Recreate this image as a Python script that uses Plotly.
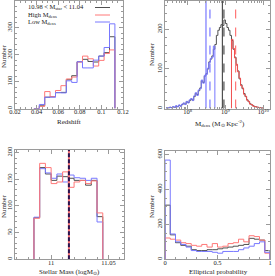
import plotly.graph_objects as go

W, H = 275, 276
GRAY = "#505050"
RED = "#ff7878"
BLUE = "#7878ff"
FRAME = "#9a9a9a"
FONT = "Liberation Serif"

# ---- Panel 1: redshift ----
z_edges = [0.0375 + 0.005 * k for k in range(16)]
z_all = [0, 10, 42, 44, 59, 60, 107, 122, 174, 183, 175, 173, 195, 208, 267]
z_high = [0, 8, 63, 44, 67, 85, 110, 117, 173, 195, 185, 158, 179, 205, 218]
z_low = [0, 15, 42, 42, 59, 58, 103, 97, 174, 151, 151, 180, 195, 227, 315]

# ---- Panel 2: M_dens (log bins) ----
d_logedges = [7.44 + 0.04 * k for k in range(65)]
d_all = [2, 1, 3, 2, 4, 3, 6, 5, 8, 6, 10, 13, 11, 17, 15, 20, 24, 21, 30, 38,
         35, 45, 52, 70, 66, 82, 88, 100, 118, 125, 133, 150, 162, 185, 198, 205,
         212, 210, 224, 215, 205, 198, 185, 172, 150, 130, 110, 95, 75, 60,
         50, 38, 30, 22, 17, 12, 9, 7, 5, 4, 3, 2, 2, 1]
d_low = [2, 2, 3, 1, 5, 3, 7, 4, 9, 6, 11, 14, 10, 18, 14, 22, 25, 20, 32, 40,
         33, 47, 50, 72, 64, 84, 86, 102, 116, 127, 130, 158]
d_high = [175, 152, 128, 112, 93, 77, 58, 52, 36, 31, 21, 18, 11, 10, 6, 5, 4, 3, 2, 2, 1]
d_lines_x = [10 ** 8.485, 10 ** 8.59, 10 ** 8.92, 10 ** 8.96, 10 ** 9.27]
d_lines_c = ["blue", "blue", "gray", "gray", "red"]
d_lines_dash = ["solid", "dash", "solid", "dash", "dash"]

# ---- Panel 3: stellar mass ----
m_edges = [10.985 + 0.005 * k for k in range(13)]
m_all = [78, 172, 160, 148, 156, 155, 152, 148, 148, 139, 148, 80]
m_high = [77, 180, 172, 142, 145, 164, 135, 145, 148, 142, 147, 87]
m_low = [79, 170, 162, 152, 160, 145, 158, 153, 152, 148, 152, 70]
m_median = [11.0155]

# ---- Panel 4: elliptical probability ----
e_edges = [0.05 * k for k in range(21)]
e_all = [310, 140, 95, 80, 75, 55, 50, 50, 55, 55, 60, 65, 70, 75, 80, 85, 120, 115, 110, 50]
e_high = [122, 115, 110, 95, 90, 80, 75, 85, 70, 90, 70, 75, 90, 95, 115, 100, 135, 130, 110, 35]
e_low = [568, 145, 100, 85, 70, 50, 45, 45, 45, 40, 35, 45, 45, 45, 55, 65, 75, 90, 100, 40]

colors = {"gray": GRAY, "red": RED, "blue": BLUE}


def step(edges, counts):
    n = len(counts)
    xs = [edges[0]] + list(edges[:n]) + [edges[n]]
    ys = [0] + list(counts) + [0]
    return xs, ys


fig = go.Figure()


def add_hist(edges, counts, color, xa, ya, width=1.0):
    xs, ys = step(edges, counts)
    fig.add_trace(go.Scatter(x=xs, y=ys, mode="lines", line=dict(color=color, width=width, shape="hv"),
                             xaxis=xa, yaxis=ya, showlegend=False, hoverinfo="skip"))


# panel 1
add_hist(z_edges, z_all, GRAY, "x", "y")
add_hist(z_edges, z_high, RED, "x", "y")
add_hist(z_edges, z_low, BLUE, "x", "y")

# panel 2
d_edges = [10 ** v for v in d_logedges]
add_hist(d_edges, d_all, GRAY, "x2", "y2")
add_hist(d_edges[:len(d_low) + 1], d_low, BLUE, "x2", "y2")
off = len(d_all) - len(d_high)
add_hist(d_edges[off:], d_high, "#f05050", "x2", "y2")
Y2TOP = 272
for xv, c, ds in zip(d_lines_x, d_lines_c, d_lines_dash):
    fig.add_trace(go.Scatter(x=[xv, xv], y=[0, Y2TOP], mode="lines",
                             line=dict(color=colors[c], width=1.2, dash=ds),
                             xaxis="x2", yaxis="y2", showlegend=False, hoverinfo="skip"))

# panel 3
add_hist(m_edges, m_all, GRAY, "x3", "y3")
add_hist(m_edges, m_low, BLUE, "x3", "y3")
add_hist(m_edges, m_high, RED, "x3", "y3")
Y3TOP = 205
for mv in m_median:
    fig.add_trace(go.Scatter(x=[mv, mv], y=[0, Y3TOP], mode="lines",
                             line=dict(color=RED, width=2),
                             xaxis="x3", yaxis="y3", showlegend=False, hoverinfo="skip"))
    fig.add_trace(go.Scatter(x=[mv, mv], y=[0, Y3TOP], mode="lines",
                             line=dict(color="#2a1450", width=2, dash="4px,2px"),
                             xaxis="x3", yaxis="y3", showlegend=False, hoverinfo="skip"))

# panel 4
add_hist(e_edges, e_all, GRAY, "x4", "y4")
add_hist(e_edges, e_high, RED, "x4", "y4")
add_hist(e_edges, e_low, BLUE, "x4", "y4")


def px(x):
    return x / W


def py(y):
    return 1 - y / H


tickfont = dict(family=FONT, size=6.5, color="#222")
common = dict(showline=True, linecolor=FRAME, linewidth=1, mirror="allticks", ticks="inside",
              ticklen=4, tickcolor=FRAME, tickfont=tickfont, showgrid=False, zeroline=False,
              automargin=False)
xcommon = dict(common, ticklabelstandoff=-3)
ycommon = dict(common, ticklabelstandoff=-1)

fig.update_layout(
    template="none",
    width=W, height=H, margin=dict(l=0, r=0, t=0, b=0, pad=0),
    paper_bgcolor="white", plot_bgcolor="white", showlegend=False,
    xaxis=dict(domain=[px(15), px(123)], range=[0.02, 0.12], tickvals=[0.02, 0.04, 0.06, 0.08, 0.1, 0.12],
               minor=dict(ticks="inside", ticklen=2, tickcolor=FRAME, dtick=0.005), anchor="y", **xcommon),
    yaxis=dict(domain=[py(108.5), py(1)], range=[0, 400], tickvals=[0, 100, 200, 300], tickangle=-90,
               minor=dict(ticks="inside", ticklen=2, tickcolor=FRAME, dtick=20), anchor="x", **ycommon),
    xaxis2=dict(domain=[px(165), px(270)], type="log", range=[7.4, 10.18],
                tickvals=[1e8, 1e9, 1e10], ticktext=["10<sup>8</sup>", "10<sup>9</sup>", "10<sup>10</sup>"],
                minor=dict(ticks="inside", ticklen=2, tickcolor=FRAME,
                           tickvals=[m * 10 ** e for e in (7, 8, 9, 10) for m in range(2, 10)]),
                anchor="y2", **xcommon),
    yaxis2=dict(domain=[py(108.5), py(1)], range=[0, Y2TOP], tickvals=[0, 100, 200], tickangle=-90,
                minor=dict(ticks="inside", ticklen=2, tickcolor=FRAME, dtick=20), anchor="x2", **ycommon),
    xaxis3=dict(domain=[px(15), px(124)], range=[10.9685, 11.0635], tickvals=[11, 11.05],
                ticktext=["11", "11.05"],
                minor=dict(ticks="inside", ticklen=2, tickcolor=FRAME, dtick=0.01), anchor="y3", **xcommon),
    yaxis3=dict(domain=[py(259.3), py(150)], range=[0, Y3TOP], tickvals=[0, 50, 100, 150, 200], tickangle=-90,
                minor=dict(ticks="inside", ticklen=2, tickcolor=FRAME, dtick=10), anchor="x3", **ycommon),
    xaxis4=dict(domain=[px(165), px(270)], range=[0, 1], tickvals=[0, 0.5, 1], ticktext=["0", "0.5", "1"],
                minor=dict(ticks="inside", ticklen=2, tickcolor=FRAME, dtick=0.1), anchor="y4", **xcommon),
    yaxis4=dict(domain=[py(259.3), py(151)], range=[0, 620], tickvals=[0, 200, 400, 600], tickangle=-90,
                minor=dict(ticks="inside", ticklen=2, tickcolor=FRAME, dtick=50), anchor="x4", **ycommon),
)

lab = dict(family=FONT, size=7, color="#222")


def ann(text, x, y, angle=0, xanchor="center", size=7):
    fig.add_annotation(text=text, x=px(x), y=py(y), xref="paper", yref="paper", showarrow=False,
                       textangle=angle, xanchor=xanchor, yanchor="middle", font=dict(lab, size=size))


ann("Redshift", 69, 122)
ann("Number", 4, 56, -90)
ann("M<sub>dens</sub> (M<sub>\u2299</sub> Kpc<sup>-2</sup>)", 220, 123)
ann("Number", 152, 54, -90)
ann("Stellar Mass (logM<sub>\u2299</sub>)", 69, 272)
ann("Number", 4, 206, -90)
ann("Elliptical probability", 218, 272)
ann("Number", 152, 206, -90)

# legend panel 1
ann("10.98 &lt; M<sub>star</sub> &lt; 11.04", 26, 7, xanchor="left", size=6.5)
ann("High M<sub>dens</sub>", 26, 14.5, xanchor="left", size=6.5)
ann("Low M<sub>dens</sub>", 26, 22, xanchor="left", size=6.5)
for yy, c in ((7.5, GRAY), (15, RED), (22, BLUE)):
    fig.add_shape(type="line", x0=px(95), x1=px(110), y0=py(yy), y1=py(yy), xref="paper", yref="paper",
                  line=dict(color=c, width=1))

fig.write_html("out.html", config={"displayModeBar": False},
               post_script="document.body.style.margin='0';document.body.style.padding='0';"
                           "document.body.style.overflow='hidden';")
